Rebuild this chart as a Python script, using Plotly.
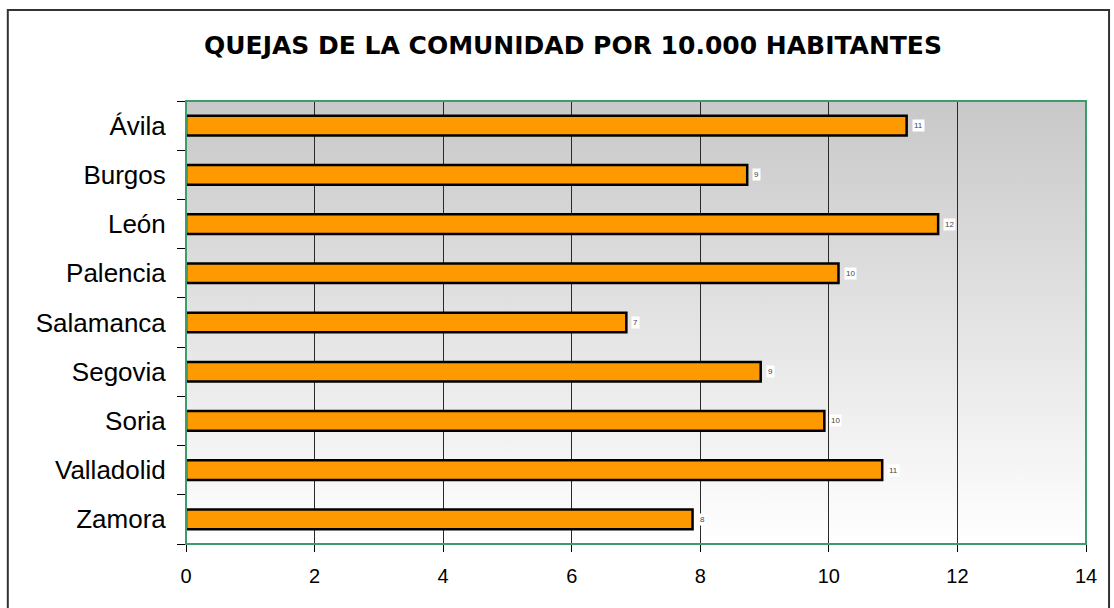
import base64
import plotly.graph_objects as go

# datos
provincias = ["Ávila", "Burgos", "León", "Palencia", "Salamanca",
              "Segovia", "Soria", "Valladolid", "Zamora"]
quejas = [11.21, 8.73, 11.70, 10.15, 6.85, 8.94, 9.93, 10.83, 7.88]
etiquetas = ["11", "9", "12", "10", "7", "9", "10", "11", "8"]
x_ticks = [0, 2, 4, 6, 8, 10, 12, 14]

posiciones = list(range(len(provincias)))
limites = [p - 0.5 for p in posiciones] + [posiciones[-1] + 0.5]

# degradado gris -> blanco para el fondo del área de trazado
svg = ('<svg xmlns="http://www.w3.org/2000/svg" width="100" height="100" '
       'preserveAspectRatio="none"><defs><linearGradient id="g" x1="0" y1="0" '
       'x2="0" y2="1"><stop offset="0" stop-color="#c8c8c8"/>'
       '<stop offset="1" stop-color="#ffffff"/></linearGradient></defs>'
       '<rect width="100" height="100" fill="url(#g)"/></svg>')
fondo = "data:image/svg+xml;base64," + base64.b64encode(svg.encode()).decode()

fig = go.Figure()

fig.add_trace(go.Bar(
    x=quejas,
    y=posiciones,
    orientation='h',
    width=0.4,
    marker=dict(color='#FF9900', line=dict(color='black', width=2.5)),
    hoverinfo='skip',
    showlegend=False
))

# etiquetas de valor pequeñas con fondo blanco
for v, p, t in zip(quejas, posiciones, etiquetas):
    fig.add_annotation(x=v, y=p, text=t, showarrow=False, xanchor='left',
                       xshift=5, bgcolor='white', borderpad=1,
                       font=dict(size=8, color='#444444', family='Liberation Sans'))

# borde verde del área de trazado
fig.add_shape(type='rect', xref='paper', yref='paper', x0=0, x1=1, y0=0, y1=1,
              line=dict(color='#3c9c6c', width=2), layer='above')
# marco exterior del gráfico
fig.add_shape(type='rect', xref='paper', yref='paper',
              x0=-0.198, x1=1.0256, y0=-0.149, y1=1.2054,
              line=dict(color='#333333', width=2))

fig.update_xaxes(
    range=[0, 14],
    tickvals=x_ticks,
    ticks='outside', ticklen=7, tickcolor='black', tickwidth=1,
    showgrid=True, gridcolor='#2a2a2a', gridwidth=1,
    showline=True, linecolor='black', linewidth=1,
    zeroline=False,
    ticklabelstandoff=7,
    tickfont=dict(size=20, family='Liberation Sans', color='black'),
    layer='above traces'
)
fig.update_yaxes(
    range=[posiciones[-1] + 0.5, -0.5],
    tickvals=posiciones, ticktext=provincias,
    ticks='', showgrid=False, zeroline=False,
    showline=True, linecolor='black', linewidth=1,
    minor=dict(tickmode='array', tickvals=limites, ticks='outside',
               ticklen=8, tickcolor='black', tickwidth=1, showgrid=False),
    ticklabelstandoff=14,
    tickfont=dict(size=26, family='Liberation Sans', color='black'),
    layer='above traces'
)

fig.update_layout(
    width=1114, height=608,
    margin=dict(l=186, r=28, t=101, b=64),
    title=dict(text="<b>QUEJAS DE LA COMUNIDAD POR 10.000 HABITANTES</b>",
               x=573 / 1114, xref='container', xanchor='center',
               y=1 - 45 / 608, yref='container', yanchor='middle',
               font=dict(size=25, family='DejaVu Sans', color='black')),
    images=[dict(source=fondo, xref='paper', yref='paper', x=0, y=1,
                 sizex=1, sizey=1, xanchor='left', yanchor='top',
                 sizing='stretch', layer='below')],
    plot_bgcolor='rgba(0,0,0,0)',
    paper_bgcolor='white',
    bargap=0.6
)

fig.write_html("out.html", config={'displayModeBar': False},
               post_script="document.body.style.margin='0';")
